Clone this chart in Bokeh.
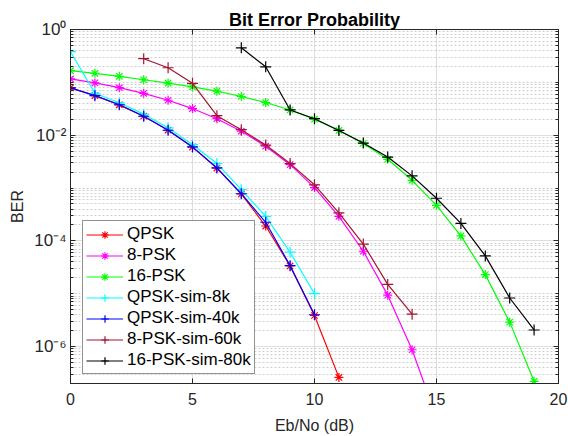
from bokeh.plotting import figure
from bokeh.models import (FixedTicker, LogAxis, LinearAxis, Range1d, Legend,
                          LegendItem, CustomJSTickFormatter)
from bokeh.embed import file_html
from bokeh.resources import INLINE

# Eb/No grids (dB)
snr_qpsk = [0, 1, 2, 3, 4, 5, 6, 7, 8, 9, 10, 11]
snr_8psk = [0, 1, 2, 3, 4, 5, 6, 7, 8, 9, 10, 11, 12, 13, 14, 15]
snr_16psk = [0, 1, 2, 3, 4, 5, 6, 7, 8, 9, 10, 11, 12, 13, 14, 15, 16, 17, 18, 19]
snr_qpsk_sim = [0, 1, 2, 3, 4, 5, 6, 7, 8, 9, 10]
snr_8psk_sim = [3, 4, 5, 6, 7, 8, 9, 10, 11, 12, 13, 14]
snr_16psk_sim = [7, 8, 9, 10, 11, 12, 13, 14, 15, 16, 17, 18, 19]

# theoretical bit error rates
ber_qpsk = [0.0786, 0.0563, 0.0375, 0.0229, 0.0125, 0.00595, 0.00239,
            7.73e-4, 1.91e-4, 3.36e-5, 3.87e-6, 2.61e-7]
ber_8psk = [0.116, 0.0977, 0.0793, 0.0619, 0.0458, 0.0319, 0.0205, 0.0119,
            0.0062, 0.00277, 1.02e-3, 2.92e-4, 6.36e-5, 9.4e-6, 8.7e-7, 4.5e-8]
ber_16psk = [0.166, 0.148, 0.130, 0.112, 0.097, 0.082, 0.068, 0.054, 0.0415,
             0.030, 0.0201, 0.0123, 0.0070, 0.0035, 0.00140, 4.7e-4, 1.24e-4,
             2.3e-5, 2.9e-6, 2.2e-7]

# simulated bit error rates
ber_qpsk_8k = [0.38, 0.062, 0.041, 0.0250, 0.0138, 0.0066, 0.0029, 9.3e-4,
               2.9e-4, 6.1e-5, 1.0e-5]
ber_qpsk_40k = [0.0786, 0.0560, 0.0377, 0.0228, 0.0124, 0.0060, 0.0024,
                7.8e-4, 2.25e-4, 3.4e-5, 4.0e-6]
ber_8psk_60k = [0.28, 0.189, 0.096, 0.0234, 0.0127, 0.0065, 0.0029, 0.00115,
                3.4e-4, 8.7e-5, 1.5e-5, 4.1e-6]
ber_16psk_80k = [0.45, 0.197, 0.030, 0.0205, 0.0123, 0.0071, 0.00385, 0.0017,
                 6.4e-4, 2.14e-4, 5.2e-5, 8.3e-6, 2.06e-6]

x_ticks = [0, 5, 10, 15, 20]
y_ticks = [1e-6, 1e-4, 1e-2, 1.0]

FONT = "Liberation Sans"
AX = "#262626"

p = figure(width=568, height=436, x_range=Range1d(0, 20),
           y_range=Range1d(2e-7, 1.0), y_axis_type="log",
           output_backend="svg", toolbar_location=None,
           min_border_left=70, min_border_right=10,
           min_border_top=29, min_border_bottom=53)
p.background_fill_color = "white"
p.border_fill_color = "white"
p.outline_line_color = AX
p.outline_line_width = 1

p.title.text = "Bit Error Probability"
p.title.align = "center"
p.title.text_font = FONT
p.title.text_font_size = "18px"
p.title.text_font_style = "bold"
p.title.text_color = "black"
p.title.standoff = 0

minor = [k * 10.0 ** d for d in range(-7, 1) for k in range(1, 10)]
minor = [v for v in minor if 2e-7 <= v <= 1.0 and v not in y_ticks]
yticker = FixedTicker(ticks=y_ticks, minor_ticks=minor)
xticker = FixedTicker(ticks=x_ticks, minor_ticks=[])

sup = CustomJSTickFormatter(code="""
const m = {"0":"\u2070","1":"\u00b9","2":"\u00b2","3":"\u00b3","4":"\u2074",
           "5":"\u2075","6":"\u2076","7":"\u2077","8":"\u2078","9":"\u2079","-":"\u207b"};
const e = Math.round(Math.log10(tick));
return "10" + String(e).split("").map(c => m[c]).join("");
""")
blank = CustomJSTickFormatter(code="return '';")

xa = p.xaxis[0]
xa.ticker = xticker
xa.axis_label = "Eb/No (dB)"
ya = p.yaxis[0]
ya.ticker = yticker
ya.formatter = sup
ya.axis_label = "BER"

for ax in (xa, ya):
    ax.axis_line_color = AX
    ax.major_tick_line_color = AX
    ax.minor_tick_line_color = AX
    ax.major_tick_in = 5
    ax.major_tick_out = 0
    ax.minor_tick_in = 3
    ax.minor_tick_out = 0
    ax.major_label_text_font = FONT
    ax.major_label_text_font_size = "16px"
    ax.major_label_text_color = AX
    ax.axis_label_text_font = FONT
    ax.axis_label_text_font_size = "16px"
    ax.axis_label_text_font_style = "normal"
    ax.axis_label_text_color = AX
xa.minor_tick_line_color = None
xa.major_label_standoff = 9
xa.axis_label_standoff = 9
ya.major_label_text_font_size = "17px"
ya.major_label_standoff = 4
ya.axis_label_standoff = 5

# mirrored axes on the top and right edges, ticks only
top = LinearAxis(ticker=xticker, formatter=blank)
right = LogAxis(ticker=yticker, formatter=blank)
for ax in (top, right):
    ax.axis_line_color = AX
    ax.major_tick_line_color = AX
    ax.minor_tick_line_color = AX
    ax.major_tick_in = 5
    ax.major_tick_out = 0
    ax.minor_tick_in = 3
    ax.minor_tick_out = 0
    ax.major_label_text_font_size = "0px"
    ax.major_label_standoff = 0
top.minor_tick_line_color = None
p.add_layout(top, "above")
p.add_layout(right, "right")

p.xgrid.ticker = xticker
p.ygrid.ticker = yticker
p.xgrid.grid_line_color = "#dedede"
p.ygrid.grid_line_color = "#dedede"
p.ygrid.minor_grid_line_color = "#cfcfcf"
p.ygrid.minor_grid_line_dash = "2 2"

series = [
    ("QPSK", snr_qpsk, ber_qpsk, "#ff0000", "asterisk", 9),
    ("8-PSK", snr_8psk, ber_8psk, "#ff00ff", "asterisk", 9),
    ("16-PSK", snr_16psk, ber_16psk, "#00ff00", "asterisk", 9),
    ("QPSK-sim-8k", snr_qpsk_sim, ber_qpsk_8k, "#00ffff", "cross", 11),
    ("QPSK-sim-40k", snr_qpsk_sim, ber_qpsk_40k, "#0000ff", "cross", 11),
    ("8-PSK-sim-60k", snr_8psk_sim, ber_8psk_60k, "#a2142f", "cross", 11),
    ("16-PSK-sim-80k", snr_16psk_sim, ber_16psk_80k, "#000000", "cross", 11),
]

items = []
for name, xs, ys, color, marker, size in series:
    ln = p.line(xs, ys, line_color=color, line_width=1.2)
    sc = p.scatter(xs, ys, marker=marker, size=size, line_color=color,
                   line_width=1.2)
    items.append(LegendItem(label=name, renderers=[ln, sc]))

legend = Legend(items=items, location=(12, 9), margin=0, padding=3,
                spacing=1, glyph_width=37, glyph_height=19, label_height=19,
                label_standoff=4, label_text_font=FONT,
                label_text_font_size="17px", label_text_color="black",
                border_line_color=AX, border_line_width=1,
                background_fill_color="white", background_fill_alpha=1.0)
p.add_layout(legend)

open("out.html", "w").write(file_html(p, INLINE))
